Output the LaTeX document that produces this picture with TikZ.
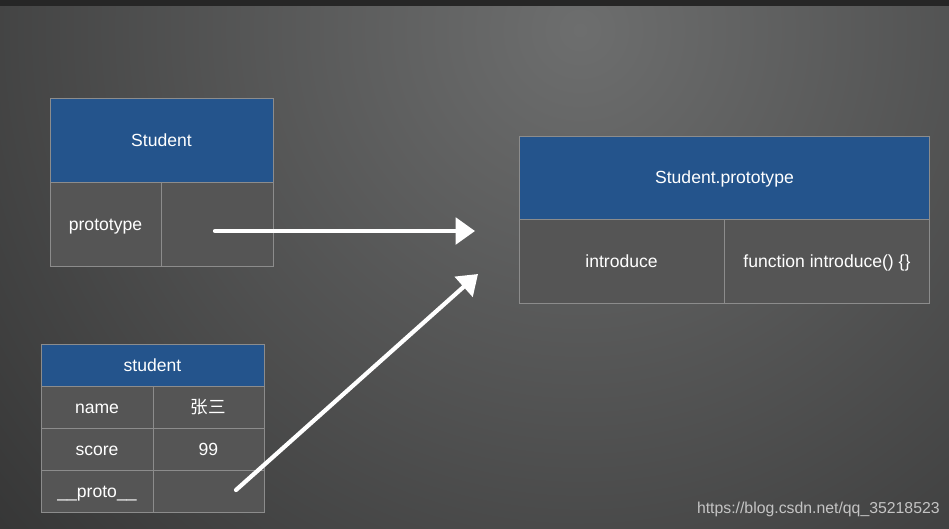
\documentclass[tikz,border=0pt]{standalone}
\usepackage{fontspec}
\setmainfont{Liberation Sans}
\newfontfamily\cjk{Noto Sans CJK SC}
\usetikzlibrary{arrows.meta,positioning}
\definecolor{headblue}{HTML}{24548C}
\definecolor{cellgray}{HTML}{555555}
\definecolor{cellline}{HTML}{8C8C8C}
\definecolor{bgcenter}{HTML}{6D6E6E}
\definecolor{bgedge}{HTML}{262626}
\definecolor{marktext}{HTML}{C4C4C4}

\begin{document}
\begin{tikzpicture}[x=0.02cm, y=-0.02cm,
  font=\fontsize{10}{12}\selectfont,
  cell/.style={rectangle, draw=cellline, line width=0.5pt, fill=cellgray,
    text=white, inner sep=0pt, outer sep=0pt, text height=7.2pt, text depth=0pt},
  head/.style={cell, fill=headblue},
  chalk/.style={draw=white, line width=2.4pt, line cap=round,
    -{Triangle[length=11pt, width=15pt]}}]
\useasboundingbox (0,0) rectangle (949,528);
% background
\begin{scope}
\clip (0,0) rectangle (949,528);
\shade[inner color=bgcenter, outer color=bgedge] (580,30) circle (20cm);
\fill[black!85] (0,0) rectangle (949,6);
\end{scope}

% Student
\node[head, minimum width=4.46cm, minimum height=1.68cm, anchor=north west] (clsHead) at (50,98) {Student};
\node[cell, minimum width=2.22cm, minimum height=1.68cm, below=0pt of clsHead.south west, anchor=north west] (clsKey) {prototype};
\node[cell, minimum width=2.24cm, minimum height=1.68cm, right=0pt of clsKey] (clsVal) {};

% Student.prototype
\node[head, minimum width=8.22cm, minimum height=1.66cm, anchor=north west] (protoHead) at (519,136) {Student.prototype};
\node[cell, minimum width=4.10cm, minimum height=1.68cm, below=0pt of protoHead.south west, anchor=north west] (protoKey) {introduce};
\node[cell, minimum width=4.12cm, minimum height=1.68cm, right=0pt of protoKey] (protoVal) {function introduce() \{\}};

% student
\node[head, minimum width=4.46cm, minimum height=0.84cm, anchor=north west] (objHead) at (41,344) {student};
\node[cell, minimum width=2.24cm, minimum height=0.84cm, below=0pt of objHead.south west, anchor=north west] (objName) {name};
\node[cell, minimum width=2.22cm, minimum height=0.84cm, right=0pt of objName] (objNameVal) {{\cjk 张三}};
\node[cell, minimum width=2.24cm, minimum height=0.84cm, below=0pt of objName] (objScore) {score};
\node[cell, minimum width=2.22cm, minimum height=0.84cm, right=0pt of objScore] (objScoreVal) {99};
\node[cell, minimum width=2.24cm, minimum height=0.84cm, below=0pt of objScore] (objProto) {\_\_proto\_\_};
\node[cell, minimum width=2.22cm, minimum height=0.84cm, right=0pt of objProto] (objProtoVal) {};

% arrows
\coordinate (fromA) at (215,231);
\coordinate (tipA) at (475,231);
\coordinate (fromB) at (236,490);
\coordinate (tipB) at (478,274);
\draw[chalk] (fromA) -- (tipA);
\draw[chalk] (fromB) -- (tipB);

\node[text=marktext, anchor=east, inner sep=0pt, font=\fontsize{9}{11}\selectfont] (mark) at (940,509) {https://blog.csdn.net/qq\_35218523};
\end{tikzpicture}
\end{document}
